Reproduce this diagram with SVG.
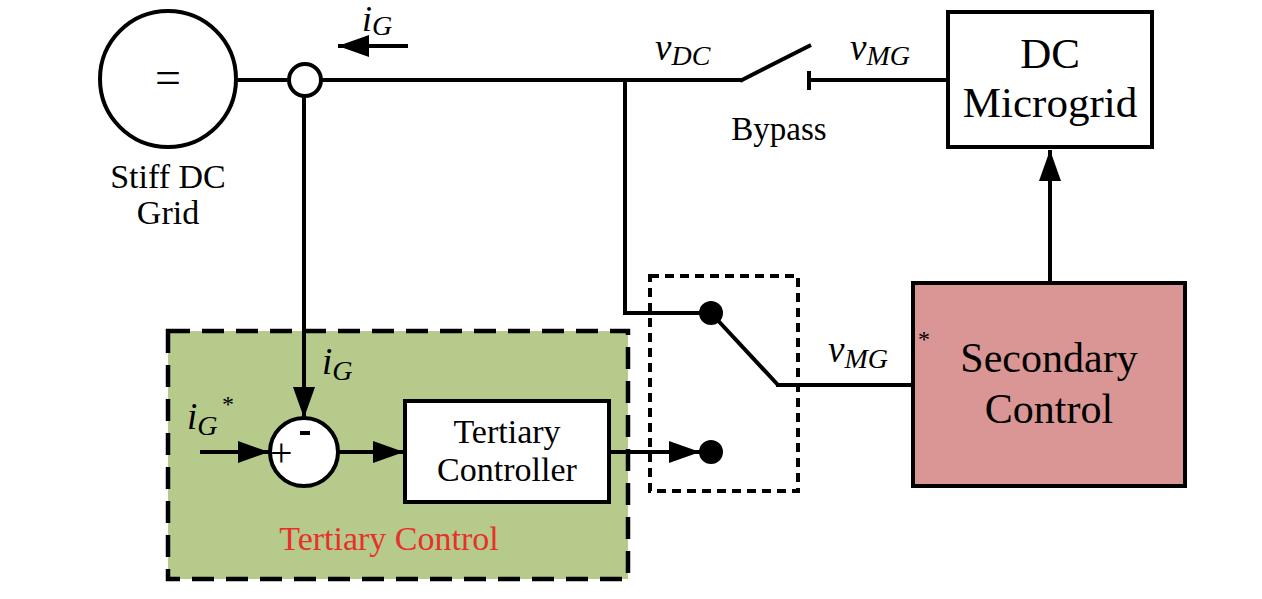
<svg xmlns="http://www.w3.org/2000/svg" width="1262" height="599" viewBox="0 0 1262 599">
<defs>
<style>
.ln{stroke:#000;stroke-width:4;fill:none}
.c{text-anchor:middle}
</style>
<marker id="ah" markerUnits="userSpaceOnUse" markerWidth="32" markerHeight="24" refX="31" refY="11" orient="auto">
<path d="M0,0 L31,11 L0,22 z" fill="#000"/>
</marker>
</defs>
<rect width="1262" height="599" fill="#fff"/>

<g id="tertiary-control">
<rect x="168" y="331" width="460" height="248" fill="#b5ca8b" stroke="#000" stroke-width="4.5" stroke-dasharray="22 12"/>
<text class="c" x="389" y="550" font-size="34" font-family="Liberation Serif, Times New Roman, serif" fill="#e8302a">Tertiary Control</text>
</g>

<g id="switch-box">
<rect x="650" y="276" width="148" height="215" fill="none" stroke="#000" stroke-width="4" stroke-dasharray="9 6"/>
<circle cx="711" cy="313" r="12" fill="#000"/>
<circle cx="711" cy="452" r="12" fill="#000"/>
</g>

<g id="stiff-dc-grid" font-family="Liberation Serif, Times New Roman, serif" fill="#000">
<circle cx="168" cy="79" r="68" fill="#fff" stroke="#000" stroke-width="4"/>
<text class="c" x="168" y="93" font-size="46">=</text>
<text class="c" x="168" y="188" font-size="34">Stiff DC</text>
<text class="c" x="168" y="224" font-size="34">Grid</text>
</g>

<g id="sensor">
<circle cx="305" cy="80" r="16" fill="none" stroke="#000" stroke-width="4"/>
</g>

<g id="dc-microgrid" font-family="Liberation Serif, Times New Roman, serif" fill="#000">
<rect x="948" y="12" width="204" height="135" fill="#fff" stroke="#000" stroke-width="4"/>
<text class="c" x="1050" y="68" font-size="43">DC</text>
<text class="c" x="1050" y="117" font-size="43">Microgrid</text>
</g>

<g id="secondary-control" font-family="Liberation Serif, Times New Roman, serif" fill="#000">
<rect x="913" y="283" width="272" height="203" fill="#d99694" stroke="#000" stroke-width="4"/>
<text class="c" x="1049" y="372" font-size="42">Secondary</text>
<text class="c" x="1049" y="423" font-size="42">Control</text>
</g>

<g id="sum" font-family="Liberation Serif, Times New Roman, serif" fill="#000">
<circle cx="304" cy="452" r="34" fill="#fff" stroke="#000" stroke-width="4"/>
<text x="270" y="466" font-size="40">+</text>
<rect x="300" y="431" width="10" height="4" fill="#000"/>
</g>

<g id="tertiary-controller" font-family="Liberation Serif, Times New Roman, serif" fill="#000">
<rect x="405" y="401" width="204" height="101" fill="#fff" stroke="#000" stroke-width="4"/>
<text class="c" x="507" y="443" font-size="34">Tertiary</text>
<text class="c" x="507" y="481" font-size="34">Controller</text>
</g>

<g id="connectors">
<line class="ln" x1="237" y1="80" x2="289" y2="80"/>
<line class="ln" x1="321" y1="80" x2="741" y2="80"/>
<line class="ln" x1="740" y1="81" x2="811" y2="45"/>
<line class="ln" x1="809" y1="71" x2="809" y2="90"/>
<line class="ln" x1="809" y1="80" x2="948" y2="80"/>
<line class="ln" x1="625" y1="80" x2="625" y2="313"/>
<line class="ln" x1="623" y1="313" x2="711" y2="313"/>
<line class="ln" x1="711" y1="313" x2="778" y2="385"/>
<line class="ln" x1="776" y1="385" x2="913" y2="385"/>
<line class="ln" x1="1050" y1="283" x2="1050" y2="150" marker-end="url(#ah)"/>
<line class="ln" x1="408" y1="46" x2="338" y2="46" marker-end="url(#ah)"/>
<line class="ln" x1="304" y1="96" x2="304" y2="418" marker-end="url(#ah)"/>
<line class="ln" x1="200" y1="452" x2="269" y2="452" marker-end="url(#ah)"/>
<line class="ln" x1="338" y1="452" x2="404" y2="452" marker-end="url(#ah)"/>
<line class="ln" x1="609" y1="452" x2="700" y2="452" marker-end="url(#ah)"/>
</g>

<g id="labels" font-family="Liberation Serif, Times New Roman, serif" fill="#000">
<text x="362" y="31" font-size="36" font-style="italic">i<tspan font-size="28" dy="4">G</tspan></text>
<text x="655" y="60" font-size="37" font-style="italic">v<tspan font-size="28" dy="5">DC</tspan></text>
<text x="850" y="60" font-size="37" font-style="italic">v<tspan font-size="28" dy="5">MG</tspan></text>
<text class="c" x="779" y="140" font-size="33">Bypass</text>
<text x="322" y="374" font-size="37" font-style="italic">i<tspan font-size="28" dy="6">G</tspan></text>
<text x="187" y="429" font-size="37" font-style="italic">i<tspan font-size="28" dy="6">G</tspan></text>
<text x="222" y="412" font-size="24">*</text>
<text x="828" y="362" font-size="37" font-style="italic">v<tspan font-size="28" dy="6">MG</tspan></text>
<text x="918" y="347" font-size="24">*</text>
</g>
</svg>
